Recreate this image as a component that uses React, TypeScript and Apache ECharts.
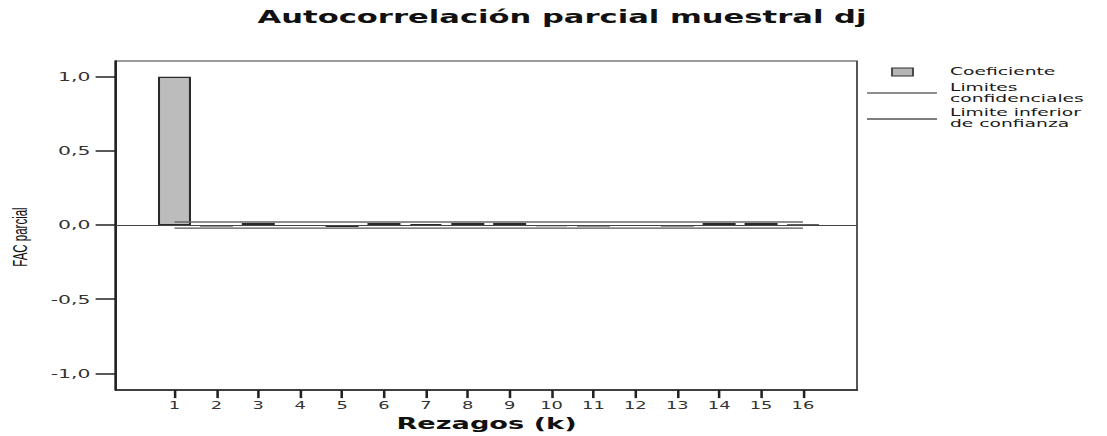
import React, { useEffect, useRef } from "react";
import * as echarts from "echarts";

// Data
const LAGS = [1, 2, 3, 4, 5, 6, 7, 8, 9, 10, 11, 12, 13, 14, 15, 16];
const PACF = [1.0, -0.01, 0.015, -0.005, -0.012, 0.015, 0.008, 0.015, 0.015, -0.008, -0.01, -0.005, -0.01, 0.015, 0.015, 0.004];
const UPPER_LIMIT = 0.021;
const LOWER_LIMIT = -0.021;
const Y_TICKS = [-1, -0.5, 0, 0.5, 1];
const TITLE = "Autocorrelación parcial muestral dj";
const X_NAME = "Rezagos (k)";
const Y_NAME = "FAC parcial";
const LEGEND_LABELS = ["Coeficiente", "Limites\nconfidenciales", "Limite inferior\nde confianza"];

// The reference is horizontally stretched; draw narrow and stretch with CSS.
const S = 1.7;
const FULL_W = 1107;
const H = 436;
const W = FULL_W / S;

export default function App() {
  const ref = useRef<HTMLDivElement>(null);

  useEffect(() => {
    document.body.style.margin = "0";
    if (!ref.current) return;
    const chart = echarts.init(ref.current, undefined, { renderer: "svg", width: W, height: H });
    const font = "DejaVu Sans";
    const option: any = {
      animation: false,
      backgroundColor: "#ffffff",
      grid: {
        left: 116 / S,
        right: W - 857 / S,
        top: 61,
        bottom: H - 394,
        show: true,
        borderColor: "#3a3a3a",
        borderWidth: 1,
      },
      xAxis: {
        type: "value",
        min: -0.396,
        max: 17.29,
        name: X_NAME,
        nameLocation: "middle",
        nameGap: 21,
        nameTextStyle: { fontFamily: font, fontWeight: "bold", fontSize: 16, color: "#111" },
        axisLine: { show: true, onZero: false, lineStyle: { color: "#222", width: 1.5 } },
        axisTick: { show: true, customValues: LAGS, length: 8, lineStyle: { color: "#222", width: 1.5 } },
        axisLabel: { customValues: LAGS, margin: 9, fontFamily: font, fontSize: 10.5, color: "#333" },
        splitLine: { show: false },
      },
      yAxis: {
        type: "value",
        min: -1.113,
        max: 1.107,
        axisLine: { show: true, onZero: false, lineStyle: { color: "#222", width: 1.5 } },
        axisTick: { show: true, customValues: Y_TICKS, length: 12, lineStyle: { color: "#222", width: 1.5 } },
        axisLabel: {
          customValues: Y_TICKS,
          margin: 15,
          fontFamily: font,
          fontSize: 12,
          color: "#333",
          formatter: (v: number) => v.toFixed(1).replace(".", ","),
        },
        splitLine: { show: false },
      },
      series: [
        {
          name: "Limites confidenciales",
          type: "line",
          data: LAGS.map((k) => [k, UPPER_LIMIT]),
          symbol: "none",
          lineStyle: { color: "#6a6a6a", width: 1.3 },
          z: 3,
        },
        {
          name: "Limite inferior de confianza",
          type: "line",
          data: LAGS.map((k) => [k, LOWER_LIMIT]),
          symbol: "none",
          lineStyle: { color: "#555", width: 1.3 },
          z: 3,
        },
        {
          name: "Coeficiente",
          type: "bar",
          data: LAGS.map((k, i) => [k, PACF[i]]),
          barWidth: 33 / S,
          itemStyle: { color: "#bcbcbc", borderColor: "#2a2a2a", borderWidth: 1.2 },
          z: 2,
          markLine: {
            silent: true,
            symbol: "none",
            label: { show: false },
            lineStyle: { color: "#444", width: 1, type: "solid" },
            data: [{ yAxis: 0 }],
          },
        },
      ],
      graphic: [
        {
          type: "text",
          x: 562 / S,
          y: 17,
          style: {
            text: TITLE,
            align: "center",
            verticalAlign: "middle",
            fontFamily: font,
            fontWeight: "bold",
            fontSize: 18,
            fill: "#111",
          },
        },
        {
          type: "text",
          x: 20 / S,
          y: 237,
          rotation: Math.PI / 2,
          style: {
            text: Y_NAME,
            align: "center",
            verticalAlign: "middle",
            fontFamily: "Liberation Sans",
            fontSize: 11.5,
            fill: "#111",
          },
        },
        {
          type: "rect",
          shape: { x: 892 / S, y: 68, width: 21 / S, height: 8 },
          style: { fill: "#b5b5b5", stroke: "#333", lineWidth: 1 },
        },
        {
          type: "text",
          x: 950 / S,
          y: 71,
          style: { text: LEGEND_LABELS[0], verticalAlign: "middle", fontFamily: font, fontSize: 11, fill: "#1a1a1a" },
        },
        {
          type: "line",
          shape: { x1: 867 / S, y1: 93, x2: 937 / S, y2: 93 },
          style: { stroke: "#6a6a6a", lineWidth: 1.3 },
        },
        {
          type: "text",
          x: 950 / S,
          y: 93,
          style: { text: LEGEND_LABELS[1], verticalAlign: "middle", lineHeight: 11.5, fontFamily: font, fontSize: 11, fill: "#1a1a1a" },
        },
        {
          type: "line",
          shape: { x1: 867 / S, y1: 119, x2: 937 / S, y2: 119 },
          style: { stroke: "#555", lineWidth: 1.3 },
        },
        {
          type: "text",
          x: 950 / S,
          y: 118,
          style: { text: LEGEND_LABELS[2], verticalAlign: "middle", lineHeight: 11.5, fontFamily: font, fontSize: 11, fill: "#1a1a1a" },
        },
      ],
    };
    chart.setOption(option);
    return () => chart.dispose();
  }, []);

  return (
    <div style={{ position: "absolute", left: 0, top: 0, width: FULL_W, height: H, overflow: "hidden", background: "#fff" }}>
      <div
        ref={ref}
        style={{ width: W, height: H, transform: `scaleX(${S})`, transformOrigin: "0 0" }}
      />
    </div>
  );
}
